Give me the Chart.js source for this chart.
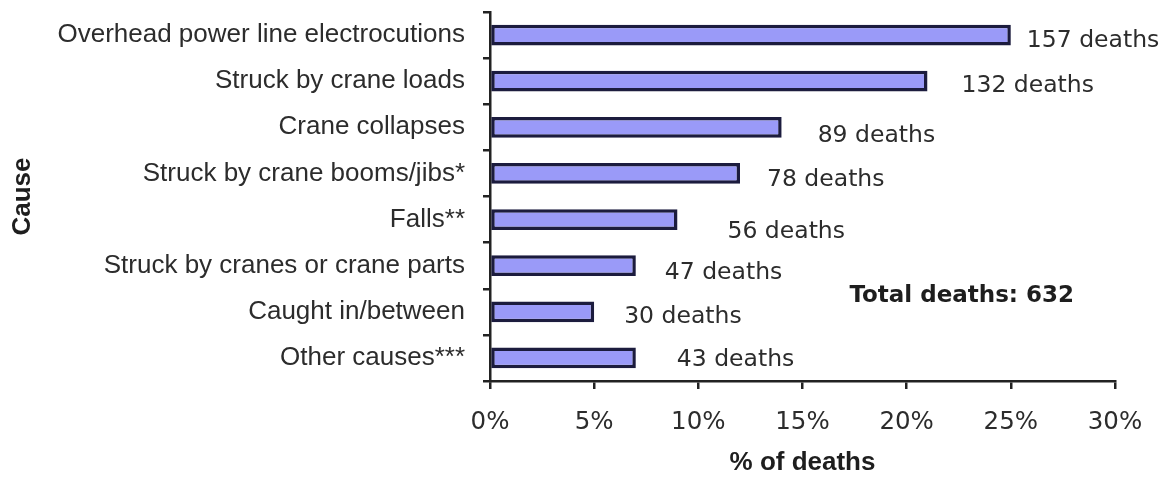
<!DOCTYPE html>
<html><head><meta charset="utf-8">
<script src="https://cdn.jsdelivr.net/npm/chart.js@4/dist/chart.umd.min.js"></script>
<style>html,body{margin:0;padding:0;background:#fff;overflow:hidden;}</style>
</head><body>
<canvas id="c" width="1171" height="479"></canvas>
<script>
const categories = [
  'Overhead power line electrocutions',
  'Struck by crane loads',
  'Crane collapses',
  'Struck by crane booms/jibs*',
  'Falls**',
  'Struck by cranes or crane parts',
  'Caught in/between',
  'Other causes***'
];
const percentOfDeaths = [25, 21, 14, 12, 9, 7, 5, 7];
const deathCounts = [157, 132, 89, 78, 56, 47, 30, 43];
const totalDeaths = 632;
const xTickStep = 5;
const xMax = 30;

// label nudges (pixels) relative to bar end / bar centre, as placed in the original
const labelNudges = [[16,6],[34,5],[36,9],[27,6],[50,12],[29,7],[30,5],[41,2]];

const dataLabels = {
  id: 'dataLabels',
  afterDatasetsDraw(chart) {
    const ctx = chart.ctx;
    const meta = chart.getDatasetMeta(0);
    ctx.save();
    ctx.font = '23.5px "DejaVu Sans"';
    ctx.fillStyle = '#2c2c2c';
    ctx.textAlign = 'left';
    ctx.textBaseline = 'middle';
    meta.data.forEach((bar, i) => {
      const [dx, dy] = labelNudges[i];
      ctx.fillText(deathCounts[i] + ' deaths', bar.x + dx, bar.y + dy);
    });
    const xs = chart.scales.x, ys = chart.scales.y;
    ctx.font = 'bold 23px "DejaVu Sans"';
    ctx.fillStyle = '#1e1e1e';
    ctx.fillText('Total deaths: ' + totalDeaths, xs.getPixelForValue(17.25), ys.getPixelForValue(5.65));
    ctx.restore();
  }
};

new Chart(document.getElementById('c'), {
  type: 'bar',
  data: {
    labels: categories,
    datasets: [{
      data: percentOfDeaths,
      backgroundColor: '#9a9af8',
      borderColor: '#1c1c3e',
      borderWidth: 3.5,
      borderSkipped: false,
      barPercentage: 0.45,
      categoryPercentage: 1
    }]
  },
  options: {
    indexAxis: 'y',
    responsive: false,
    animation: false,
    devicePixelRatio: 1,
    layout: { padding: { top: 12, right: 56, left: 0, bottom: 0 } },
    plugins: { legend: { display: false }, tooltip: { enabled: false } },
    scales: {
      x: {
        type: 'linear', min: 0, max: xMax,
        ticks: { stepSize: xTickStep, callback: v => v + '%', font: { family: 'DejaVu Sans', size: 24.5 }, color: '#2c2c2c', padding: 19, maxRotation: 0 },
        grid: { drawOnChartArea: false, drawTicks: true, tickLength: 8, color: '#222222', lineWidth: 2.5 },
        border: { display: true, color: '#222222', width: 2.5 },
        title: { display: true, text: '% of deaths', font: { family: 'Liberation Sans', size: 26, weight: 'bold', lineHeight: 1.2 }, color: '#1e1e1e', padding: { top: 0, bottom: 1 } },
        afterFit: s => { s.height = 98; }
      },
      y: {
        type: 'category',
        offset: true,
        ticks: { font: { family: 'Liberation Sans', size: 26 }, color: '#2c2c2c', padding: 18 },
        grid: { offset: true, drawOnChartArea: false, drawTicks: true, tickLength: 7, color: '#222222', lineWidth: 2.5 },
        border: { display: true, color: '#222222', width: 2.5 },
        title: { display: true, text: 'Cause', font: { family: 'Liberation Sans', size: 26, weight: 'bold', lineHeight: 1.2 }, color: '#1e1e1e', padding: { top: 7, bottom: 0 } },
        afterFit: s => { s.width = 490; s.paddingTop = 0; s.paddingBottom = 0; }
      }
    }
  },
  plugins: [dataLabels]
});
</script>
</body></html>
